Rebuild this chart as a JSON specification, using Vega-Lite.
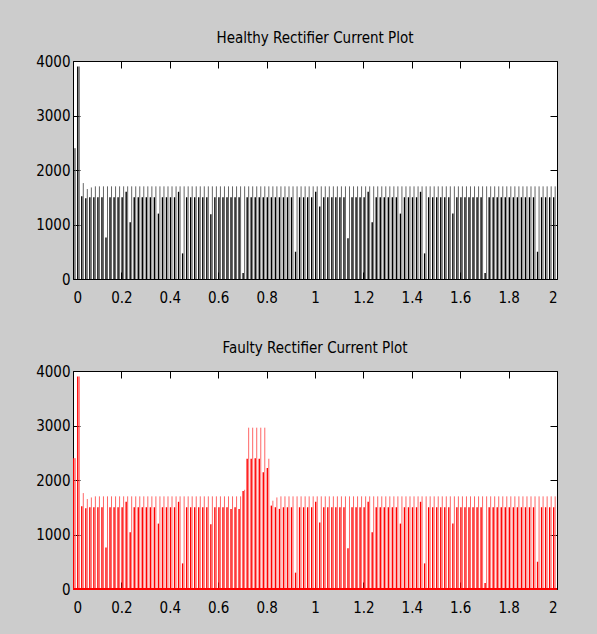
{
  "$schema": "https://vega.github.io/schema/vega-lite/v6.json",
  "background": "#cccccc",
  "padding": {"left": 35, "top": 30, "right": 40, "bottom": 28},
  "config": {
    "view": {"stroke": "#000000", "strokeWidth": 1, "fill": "#ffffff"},
    "font": "DejaVu Sans Condensed, Liberation Sans Narrow, Arial Narrow, Liberation Sans, sans-serif",
    "title": {"font": "DejaVu Sans Condensed, Liberation Sans Narrow, Arial Narrow, Liberation Sans, sans-serif", "fontSize": 15, "fontWeight": "normal", "color": "#000000", "offset": 8, "anchor": "middle"},
    "axis": {"domain": false, "grid": false, "tickColor": "#000000", "tickSize": -7, "tickWidth": 1, "labelFont": "DejaVu Sans Condensed, Liberation Sans Narrow, Arial Narrow, Liberation Sans, sans-serif", "labelFontSize": 15, "labelColor": "#000000", "title": null}
  },
  "datasets": {
    "p": [
      {"t":0.003,"h":2400,"l":2400,"fh":2400,"fl":2400},
      {"t":0.0197,"h":3900,"l":3900,"fh":3900,"fl":3900},
      {"t":0.0363,"h":1760,"l":1520,"fh":1760,"fl":1520},
      {"t":0.053,"h":1650,"l":1480,"fh":1650,"fl":1480},
      {"t":0.0697,"h":1680,"l":1500,"fh":1680,"fl":1500},
      {"t":0.0863,"h":1700,"l":1500,"fh":1700,"fl":1500},
      {"t":0.103,"h":1700,"l":1500,"fh":1700,"fl":1500},
      {"t":0.1197,"h":1700,"l":1500,"fh":1700,"fl":1500},
      {"t":0.1363,"h":1700,"l":760,"fh":1700,"fl":760},
      {"t":0.153,"h":1700,"l":1500,"fh":1700,"fl":1500},
      {"t":0.1697,"h":1700,"l":1500,"fh":1700,"fl":1500},
      {"t":0.1863,"h":1700,"l":1500,"fh":1700,"fl":1500},
      {"t":0.203,"h":1700,"l":1500,"fh":1700,"fl":1500},
      {"t":0.2197,"h":1700,"l":1600,"fh":1700,"fl":1600},
      {"t":0.2363,"h":1700,"l":1040,"fh":1700,"fl":1040},
      {"t":0.253,"h":1700,"l":1500,"fh":1700,"fl":1500},
      {"t":0.2697,"h":1700,"l":1500,"fh":1700,"fl":1500},
      {"t":0.2863,"h":1700,"l":1500,"fh":1700,"fl":1500},
      {"t":0.303,"h":1700,"l":1500,"fh":1700,"fl":1500},
      {"t":0.3197,"h":1700,"l":1500,"fh":1700,"fl":1500},
      {"t":0.3363,"h":1700,"l":1500,"fh":1700,"fl":1500},
      {"t":0.353,"h":1700,"l":1200,"fh":1700,"fl":1200},
      {"t":0.3697,"h":1700,"l":1500,"fh":1700,"fl":1500},
      {"t":0.3863,"h":1700,"l":1500,"fh":1700,"fl":1500},
      {"t":0.403,"h":1700,"l":1500,"fh":1700,"fl":1500},
      {"t":0.4197,"h":1700,"l":1500,"fh":1700,"fl":1500},
      {"t":0.4363,"h":1700,"l":1600,"fh":1700,"fl":1600},
      {"t":0.453,"h":1700,"l":470,"fh":1700,"fl":470},
      {"t":0.4697,"h":1700,"l":1500,"fh":1700,"fl":1500},
      {"t":0.4863,"h":1700,"l":1500,"fh":1700,"fl":1500},
      {"t":0.503,"h":1700,"l":1500,"fh":1700,"fl":1500},
      {"t":0.5197,"h":1700,"l":1500,"fh":1700,"fl":1500},
      {"t":0.5363,"h":1700,"l":1500,"fh":1700,"fl":1500},
      {"t":0.553,"h":1700,"l":1500,"fh":1700,"fl":1500},
      {"t":0.5697,"h":1700,"l":1190,"fh":1700,"fl":1190},
      {"t":0.5863,"h":1700,"l":1500,"fh":1700,"fl":1500},
      {"t":0.603,"h":1700,"l":1500,"fh":1700,"fl":1500},
      {"t":0.6197,"h":1700,"l":1500,"fh":1700,"fl":1500},
      {"t":0.6363,"h":1700,"l":1500,"fh":1700,"fl":1500},
      {"t":0.653,"h":1700,"l":1500,"fh":1700,"fl":1470},
      {"t":0.6697,"h":1700,"l":1500,"fh":1700,"fl":1500},
      {"t":0.6863,"h":1700,"l":1500,"fh":1700,"fl":1470},
      {"t":0.703,"h":1700,"l":110,"fh":1820,"fl":1800},
      {"t":0.7197,"h":1700,"l":1500,"fh":2960,"fl":2390},
      {"t":0.7363,"h":1700,"l":1500,"fh":2960,"fl":2390},
      {"t":0.753,"h":1700,"l":1500,"fh":2960,"fl":2400},
      {"t":0.7697,"h":1700,"l":1500,"fh":2960,"fl":2390},
      {"t":0.7863,"h":1700,"l":1500,"fh":2960,"fl":2140},
      {"t":0.803,"h":1700,"l":1500,"fh":2390,"fl":2220},
      {"t":0.8197,"h":1700,"l":1500,"fh":1620,"fl":1530},
      {"t":0.8363,"h":1700,"l":1500,"fh":1680,"fl":1500},
      {"t":0.853,"h":1700,"l":1500,"fh":1700,"fl":1470},
      {"t":0.8697,"h":1700,"l":1500,"fh":1700,"fl":1500},
      {"t":0.8863,"h":1700,"l":1500,"fh":1700,"fl":1500},
      {"t":0.903,"h":1700,"l":1500,"fh":1700,"fl":1500},
      {"t":0.9197,"h":1700,"l":500,"fh":1700,"fl":300},
      {"t":0.9363,"h":1700,"l":1500,"fh":1700,"fl":1500},
      {"t":0.953,"h":1700,"l":1500,"fh":1700,"fl":1500},
      {"t":0.9697,"h":1700,"l":1500,"fh":1700,"fl":1500},
      {"t":0.9863,"h":1700,"l":1500,"fh":1700,"fl":1500},
      {"t":1.003,"h":1700,"l":1600,"fh":1700,"fl":1600},
      {"t":1.0197,"h":1700,"l":1330,"fh":1700,"fl":1220},
      {"t":1.0363,"h":1700,"l":1500,"fh":1700,"fl":1500},
      {"t":1.053,"h":1700,"l":1500,"fh":1700,"fl":1500},
      {"t":1.0697,"h":1700,"l":1500,"fh":1700,"fl":1500},
      {"t":1.0863,"h":1700,"l":1500,"fh":1700,"fl":1500},
      {"t":1.103,"h":1700,"l":1500,"fh":1700,"fl":1500},
      {"t":1.1197,"h":1700,"l":1500,"fh":1700,"fl":1500},
      {"t":1.1363,"h":1700,"l":750,"fh":1700,"fl":750},
      {"t":1.153,"h":1700,"l":1500,"fh":1700,"fl":1500},
      {"t":1.1697,"h":1700,"l":1500,"fh":1700,"fl":1500},
      {"t":1.1863,"h":1700,"l":1500,"fh":1700,"fl":1500},
      {"t":1.203,"h":1700,"l":1500,"fh":1700,"fl":1500},
      {"t":1.2197,"h":1700,"l":1600,"fh":1700,"fl":1600},
      {"t":1.2363,"h":1700,"l":1040,"fh":1700,"fl":1040},
      {"t":1.253,"h":1700,"l":1500,"fh":1700,"fl":1500},
      {"t":1.2697,"h":1700,"l":1500,"fh":1700,"fl":1500},
      {"t":1.2863,"h":1700,"l":1500,"fh":1700,"fl":1500},
      {"t":1.303,"h":1700,"l":1500,"fh":1700,"fl":1500},
      {"t":1.3197,"h":1700,"l":1500,"fh":1700,"fl":1500},
      {"t":1.3363,"h":1700,"l":1500,"fh":1700,"fl":1500},
      {"t":1.353,"h":1700,"l":1200,"fh":1700,"fl":1200},
      {"t":1.3697,"h":1700,"l":1500,"fh":1700,"fl":1500},
      {"t":1.3863,"h":1700,"l":1500,"fh":1700,"fl":1500},
      {"t":1.403,"h":1700,"l":1500,"fh":1700,"fl":1500},
      {"t":1.4197,"h":1700,"l":1500,"fh":1700,"fl":1500},
      {"t":1.4363,"h":1700,"l":1600,"fh":1700,"fl":1600},
      {"t":1.453,"h":1700,"l":470,"fh":1700,"fl":470},
      {"t":1.4697,"h":1700,"l":1500,"fh":1700,"fl":1500},
      {"t":1.4863,"h":1700,"l":1500,"fh":1700,"fl":1500},
      {"t":1.503,"h":1700,"l":1500,"fh":1700,"fl":1500},
      {"t":1.5197,"h":1700,"l":1500,"fh":1700,"fl":1500},
      {"t":1.5363,"h":1700,"l":1500,"fh":1700,"fl":1500},
      {"t":1.553,"h":1700,"l":1500,"fh":1700,"fl":1500},
      {"t":1.5697,"h":1700,"l":1200,"fh":1700,"fl":1200},
      {"t":1.5863,"h":1700,"l":1500,"fh":1700,"fl":1500},
      {"t":1.603,"h":1700,"l":1500,"fh":1700,"fl":1500},
      {"t":1.6197,"h":1700,"l":1500,"fh":1700,"fl":1500},
      {"t":1.6363,"h":1700,"l":1500,"fh":1700,"fl":1500},
      {"t":1.653,"h":1700,"l":1500,"fh":1700,"fl":1500},
      {"t":1.6697,"h":1700,"l":1500,"fh":1700,"fl":1500},
      {"t":1.6863,"h":1700,"l":1500,"fh":1700,"fl":1500},
      {"t":1.703,"h":1700,"l":110,"fh":1700,"fl":110},
      {"t":1.7197,"h":1700,"l":1500,"fh":1700,"fl":1500},
      {"t":1.7363,"h":1700,"l":1500,"fh":1700,"fl":1500},
      {"t":1.753,"h":1700,"l":1500,"fh":1700,"fl":1500},
      {"t":1.7697,"h":1700,"l":1500,"fh":1700,"fl":1500},
      {"t":1.7863,"h":1700,"l":1500,"fh":1700,"fl":1500},
      {"t":1.803,"h":1700,"l":1500,"fh":1700,"fl":1500},
      {"t":1.8197,"h":1700,"l":1500,"fh":1700,"fl":1500},
      {"t":1.8363,"h":1700,"l":1500,"fh":1700,"fl":1500},
      {"t":1.853,"h":1700,"l":1500,"fh":1700,"fl":1500},
      {"t":1.8697,"h":1700,"l":1500,"fh":1700,"fl":1500},
      {"t":1.8863,"h":1700,"l":1500,"fh":1700,"fl":1500},
      {"t":1.903,"h":1700,"l":1500,"fh":1700,"fl":1500},
      {"t":1.9197,"h":1700,"l":500,"fh":1700,"fl":500},
      {"t":1.9363,"h":1700,"l":1500,"fh":1700,"fl":1500},
      {"t":1.953,"h":1700,"l":1500,"fh":1700,"fl":1500},
      {"t":1.9697,"h":1700,"l":1500,"fh":1700,"fl":1500},
      {"t":1.9863,"h":1700,"l":1500,"fh":1700,"fl":1500}
    ]
  },
  "spacing": 92,
  "bounds": "flush",
  "vconcat": [
    {
      "width": 484,
      "height": 218,
      "title": "Healthy Rectifier Current Plot",
      "data": {"name": "p"},
      "layer": [
        {
          "mark": {"type": "rule", "color": "#000000", "strokeWidth": 1.4},
          "encoding": {
            "x": {"field": "t", "type": "quantitative", "scale": {"domain": [0, 2], "nice": false, "zero": false}, "axis": {"orient": "bottom", "values": [0, 0.2, 0.4, 0.6, 0.8, 1, 1.2, 1.4, 1.6, 1.8, 2], "format": "~g", "labelPadding": 18}},
            "y": {"field": "l", "type": "quantitative", "scale": {"domain": [0, 4000], "nice": false}, "axis": {"orient": "left", "values": [0, 1000, 2000, 3000, 4000], "format": "d", "labelPadding": 10}},
            "y2": {"datum": 0}
          }
        },
        {
          "mark": {"type": "rule", "color": "#666666", "strokeWidth": 1, "xOffset": 1.5},
          "encoding": {
            "x": {"field": "t", "type": "quantitative", "scale": {"domain": [0, 2], "nice": false, "zero": false}, "axis": {"orient": "top", "labels": false, "values": [0, 0.2, 0.4, 0.6, 0.8, 1, 1.2, 1.4, 1.6, 1.8, 2]}},
            "y": {"field": "h", "type": "quantitative", "scale": {"domain": [0, 4000], "nice": false}, "axis": {"orient": "right", "labels": false, "values": [0, 1000, 2000, 3000, 4000]}},
            "y2": {"datum": 0}
          }
        }
      ],
      "resolve": {"axis": {"x": "independent", "y": "independent"}}
    },
    {
      "width": 484,
      "height": 218,
      "title": "Faulty Rectifier Current Plot",
      "data": {"name": "p"},
      "layer": [
        {
          "mark": {"type": "rule", "color": "#ff0000", "strokeWidth": 1.4},
          "encoding": {
            "x": {"field": "t", "type": "quantitative", "scale": {"domain": [0, 2], "nice": false, "zero": false}, "axis": {"orient": "bottom", "values": [0, 0.2, 0.4, 0.6, 0.8, 1, 1.2, 1.4, 1.6, 1.8, 2], "format": "~g", "labelPadding": 18}},
            "y": {"field": "fl", "type": "quantitative", "scale": {"domain": [0, 4000], "nice": false}, "axis": {"orient": "left", "values": [0, 1000, 2000, 3000, 4000], "format": "d", "labelPadding": 10}},
            "y2": {"datum": 0}
          }
        },
        {
          "mark": {"type": "rule", "color": "#ff6666", "strokeWidth": 1, "xOffset": 1.5},
          "encoding": {
            "x": {"field": "t", "type": "quantitative", "scale": {"domain": [0, 2], "nice": false, "zero": false}, "axis": {"orient": "top", "labels": false, "values": [0, 0.2, 0.4, 0.6, 0.8, 1, 1.2, 1.4, 1.6, 1.8, 2]}},
            "y": {"field": "fh", "type": "quantitative", "scale": {"domain": [0, 4000], "nice": false}, "axis": {"orient": "right", "labels": false, "values": [0, 1000, 2000, 3000, 4000]}},
            "y2": {"datum": 0}
          }
        },
        {
          "mark": {"type": "rule", "color": "#ff0000", "strokeWidth": 2},
          "encoding": {"y": {"datum": 0, "axis": null}}
        }
      ],
      "resolve": {"axis": {"x": "independent", "y": "independent"}}
    }
  ]
}
